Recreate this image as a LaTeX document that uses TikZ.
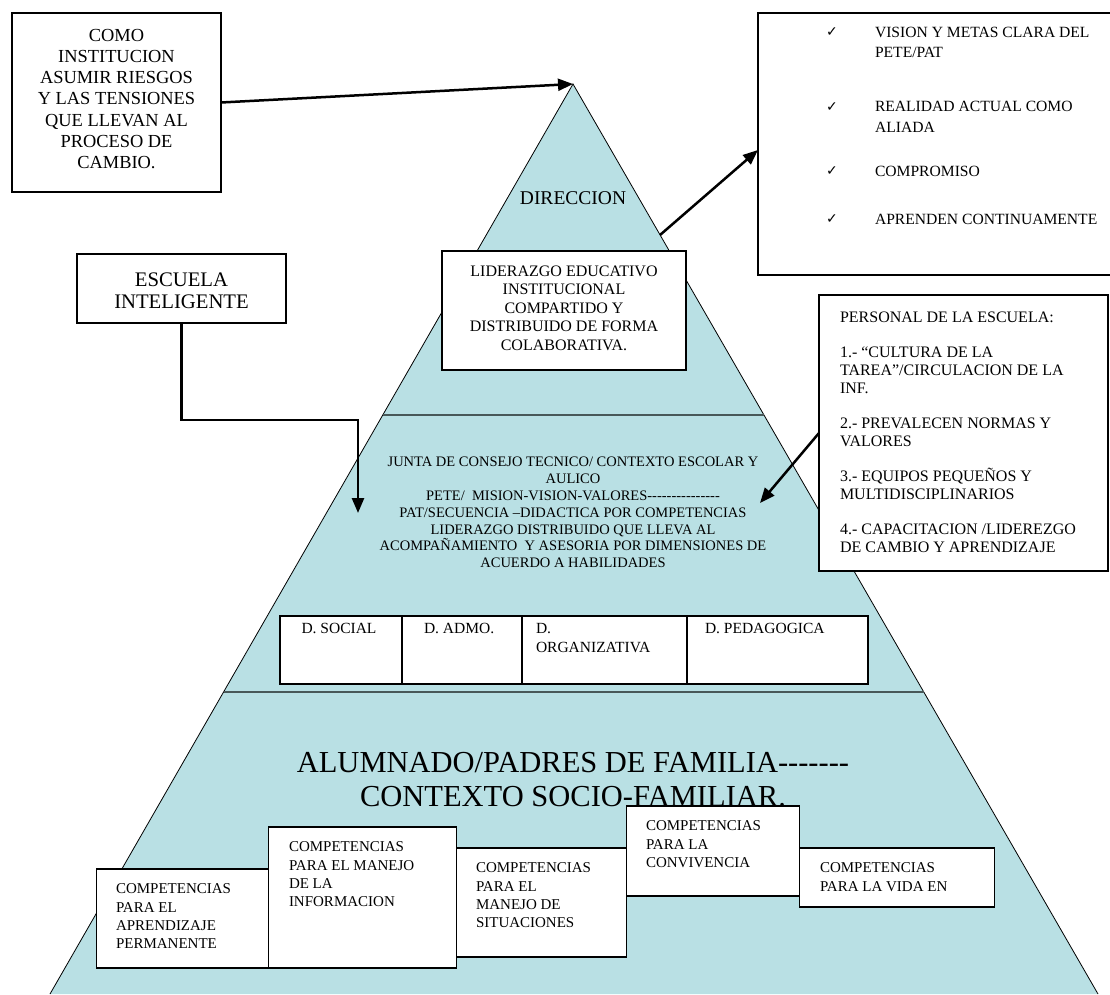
\documentclass[tikz,border=0pt]{standalone}
\usepackage{fontspec}
\setmainfont{Liberation Serif}[Ligatures=TeXOff]
\newfontfamily\symfont{DejaVu Sans}
\usetikzlibrary{arrows.meta}
\definecolor{pyr}{RGB}{185,224,228}
\definecolor{divc}{RGB}{72,88,88}
\begin{document}
\begin{tikzpicture}[x=1pt,y=-1pt,
  box/.style={draw=black, line width=1.5pt, fill=white, inner sep=0pt, outer sep=0pt, anchor=north west},
  txt/.style={inner sep=0pt, outer sep=0pt},
  ltxt/.style={txt, anchor=north west, align=left},
  conn/.style={line width=2.5pt, -{Triangle[length=15pt,width=12pt]}},
  chk/.style={txt, font=\symfont\fontsize{14}{14}\selectfont},
  divider/.style={draw=divc, line width=2.5pt}
  ]
\useasboundingbox (0,0) rectangle (1110,994);
\clip (0,0) rectangle (1110,994);
% pyramid
\coordinate (apex) at (573,84);
\coordinate (bl) at (50,994);
\coordinate (br) at (1098,994);
\fill[pyr] (apex) -- (bl) -- (br) -- cycle;
\draw[line width=0.8pt] (bl) -- (apex) -- (br);
% dividers
\coordinate (d1l) at (382.8,415);
\coordinate (d1r) at (764,415);
\coordinate (d2l) at (223.6,692);
\coordinate (d2r) at (923.8,692);
\draw[divider] (d1l) -- (d1r);
\draw[divider] (d2l) -- (d2r);

% middle text
\node[txt, align=center, font=\fontsize{14.5}{16.8}\selectfont] (junta) at (573,512.5)
{JUNTA DE CONSEJO TECNICO/ CONTEXTO ESCOLAR Y\\AULICO\\PETE/\ \ MISION-VISION-VALORES---------------\\PAT/SECUENCIA –DIDACTICA POR COMPETENCIAS\\LIDERAZGO DISTRIBUIDO QUE LLEVA AL\\ACOMPAÑAMIENTO\ \ Y ASESORIA POR DIMENSIONES DE\\ACUERDO A HABILIDADES};

% D boxes
\node[box, minimum width=122pt, minimum height=68pt] (dsoc) at (280,616) {};
\node[box, minimum width=120pt, minimum height=68pt] (dadm) at (402,616) {};
\node[box, minimum width=165pt, minimum height=68pt] (dorg) at (522,616) {};
\node[box, minimum width=181pt, minimum height=68pt] (dped) at (687,616) {};
\begin{scope}[font=\fontsize{15.5}{19}\selectfont]
\node[ltxt] (tsoc) at (301.5,623) {D. SOCIAL};
\node[ltxt] (tadm) at (424,623) {D. ADMO.};
\node[ltxt] (torg) at (536,623) {D.\\ORGANIZATIVA};
\node[ltxt] (tped) at (705,623) {D. PEDAGOGICA};
\end{scope}

% big text
\node[txt, align=center, font=\fontsize{30.5}{34}\selectfont] (alum) at (573,780)
{ALUMNADO/PADRES DE FAMILIA-------\\CONTEXTO SOCIO-FAMILIAR.};

% competencias boxes
\node[box, minimum width=173pt, minimum height=99pt] (c1) at (96.4,869) {};
\node[box, minimum width=188pt, minimum height=141pt] (c2) at (268.6,827) {};
\node[box, minimum width=170pt, minimum height=109pt] (c3) at (456.5,848) {};
\node[box, minimum width=173pt, minimum height=90pt] (c4) at (626.6,806) {};
\node[box, minimum width=195pt, minimum height=59pt] (c5) at (799.4,848) {};
\begin{scope}[font=\fontsize{15}{18.3}\selectfont]
\node[ltxt] (tc1) at (116,884) {COMPETENCIAS\\PARA EL\\APRENDIZAJE\\PERMANENTE};
\node[ltxt] (tc2) at (289,842) {COMPETENCIAS\\PARA EL MANEJO\\DE LA\\INFORMACION};
\node[ltxt] (tc3) at (476,863) {COMPETENCIAS\\PARA EL\\MANEJO DE\\SITUACIONES};
\node[ltxt] (tc4) at (646,821) {COMPETENCIAS\\PARA LA\\CONVIVENCIA};
\node[ltxt] (tc5) at (820,863) {COMPETENCIAS\\PARA LA VIDA EN};
\end{scope}

% direccion
\node[txt, font=\fontsize{19.5}{22}\selectfont] (dir) at (573,198) {DIRECCION};

% liderazgo box
\node[box, minimum width=244pt, minimum height=119pt] (lider) at (442,251) {};
\node[txt, align=center, font=\fontsize{16}{18.5}\selectfont] (tlider) at (564,308)
{LIDERAZGO EDUCATIVO\\INSTITUCIONAL\\COMPARTIDO Y\\DISTRIBUIDO DE FORMA\\COLABORATIVA.};

% top-left box
\node[box, minimum width=209pt, minimum height=179pt] (riesgo) at (12,13) {};
\node[txt, align=center, font=\fontsize{18.4}{21.3}\selectfont] (triesgo) at (116.5,99)
{COMO\\INSTITUCION\\ASUMIR RIESGOS\\Y LAS TENSIONES\\QUE LLEVAN AL\\PROCESO DE\\CAMBIO.};

% escuela box
\node[box, minimum width=209pt, minimum height=69pt] (escuela) at (77,254) {};
\node[txt, align=center, font=\fontsize{20.7}{22}\selectfont] (tescuela) at (181.5,291)
{ESCUELA\\INTELIGENTE};

% top-right box
\node[box, minimum width=400pt, minimum height=262pt] (vision) at (758,13) {};
\begin{scope}[font=\fontsize{15.6}{20.3}\selectfont]
\node[ltxt] (v1) at (875,26.8) {VISION Y METAS CLARA DEL\\PETE/PAT};
\node[ltxt] (v2) at (875,101.5) {REALIDAD ACTUAL COMO\\ALIADA};
\node[ltxt] (v3) at (875,165.8) {COMPROMISO};
\node[ltxt] (v4) at (875,213.8) {APRENDEN CONTINUAMENTE};
\end{scope}
\node[chk] (k1) at (832,32) {✓};
\node[chk] (k2) at (832,107) {✓};
\node[chk] (k3) at (832,171) {✓};
\node[chk] (k4) at (832,219) {✓};

% personal box
\node[box, minimum width=289pt, minimum height=276pt] (personal) at (819,295) {};
\begin{scope}[font=\fontsize{16}{18}\selectfont]
\node[ltxt] (p0) at (840,311.7) {PERSONAL DE LA ESCUELA:};
\node[ltxt] (p1) at (840,346.7) {1.- “CULTURA DE LA\\TAREA”/CIRCULACION DE LA\\INF.};
\node[ltxt] (p2) at (840,417.7) {2.- PREVALECEN NORMAS Y\\VALORES};
\node[ltxt] (p3) at (840,470.7) {3.- EQUIPOS PEQUE\smash{Ñ}OS Y\\MULTIDISCIPLINARIOS};
\node[ltxt] (p4) at (840,523.7) {4.- CAPACITACION /LIDEREZGO\\DE CAMBIO Y APRENDIZAJE};
\end{scope}

% connectors
\coordinate (dirA) at (660,235);
\coordinate (juntaR) at (760,503);
\coordinate (juntaL) at (358,513);
\draw[conn] (riesgo.east) -- (apex);
\draw[conn] (dirA) -- ([yshift=-6pt]vision.west);
\draw[conn] (personal.west) -- (juntaR);
\draw[conn] (escuela.south) -- (escuela.south |- 0,420) -| (juntaL);
\end{tikzpicture}
\end{document}
